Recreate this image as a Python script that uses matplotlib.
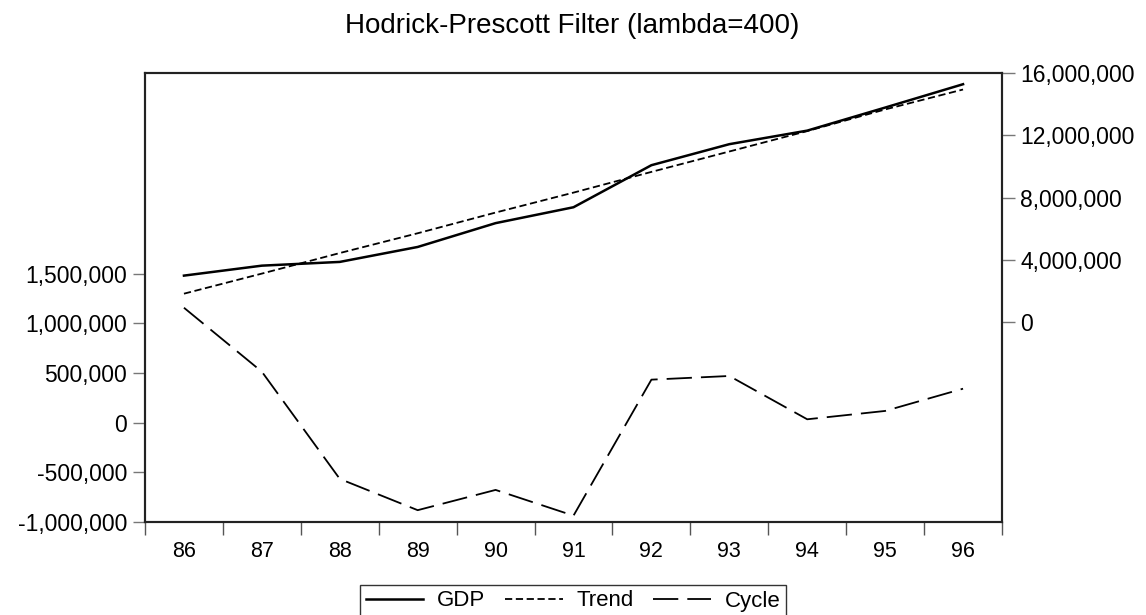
import numpy as np
import matplotlib
matplotlib.use('Agg')
import matplotlib.pyplot as plt
from matplotlib.ticker import FuncFormatter

plt.rcParams['font.family'] = ['Liberation Sans', 'DejaVu Sans']

anios = ['86', '87', '88', '89', '90', '91', '92', '93', '94', '95', '96']
gdp = [2.99e6, 3.63e6, 3.87e6, 4.83e6, 6.36e6, 7.38e6,
       10.08e6, 11.43e6, 12.30e6, 13.78e6, 15.28e6]
tendencia = [1.83e6, 3.12e6, 4.44e6, 5.71e6, 7.04e6, 8.32e6,
             9.65e6, 10.96e6, 12.27e6, 13.66e6, 14.94e6]
ciclo = [1157000, 513000, -566000, -881000, -677000, -936000,
         433000, 470000, 34000, 118000, 342000]

ticks_izq = [-1000000, -500000, 0, 500000, 1000000, 1500000]
ticks_der = [0, 4000000, 8000000, 12000000, 16000000]

def con_comas(v, pos=None):
    return f'{int(round(v)):,}'

fig = plt.figure(figsize=(11.46, 6.15), dpi=100)
ax = fig.add_axes([145/1146, 1-522/615, 857/1146, 449/615])
ax2 = ax.twinx()

x = np.arange(len(anios))
l3, = ax.plot(x, ciclo, color='black', linewidth=1.3, dashes=(14, 5), label='Cycle')
l1, = ax2.plot(x, gdp, color='black', linewidth=1.8, label='GDP')
l2, = ax2.plot(x, tendencia, color='black', linewidth=1.3, dashes=(4, 2), label='Trend')

ax.set_xlim(-0.5, len(anios) - 0.5)
ax.set_ylim(-1000000, 3520000)
ax2.set_ylim(-12830000, 16000000)

ax.set_yticks(ticks_izq)
ax.yaxis.set_major_formatter(FuncFormatter(con_comas))
ax2.set_yticks(ticks_der)
ax2.yaxis.set_major_formatter(FuncFormatter(con_comas))

ax.set_xticks(np.arange(-0.5, len(anios)), labels=[''] * (len(anios) + 1))
ax.set_xticks(x, minor=True)
ax.set_xticklabels(anios, minor=True)
ax.tick_params(axis='x', which='minor', length=0, pad=14, labelsize=15.5)
ax.tick_params(axis='x', which='major', length=9, width=1, color='#555555', direction='out')
ax.tick_params(axis='y', length=9, width=1, color='#777777', labelsize=16.5, pad=4)
ax2.tick_params(axis='y', length=9, width=1, color='#777777', labelsize=16.5, pad=4)

for a in (ax, ax2):
    for s in a.spines.values():
        s.set_linewidth(1.5)
        s.set_color('#222222')

fig.suptitle('Hodrick-Prescott Filter (lambda=400)', x=572/1146, y=1-26/615,
             va='center', fontsize=20)

leg = fig.legend(handles=[l1, l2, l3], loc='center', bbox_to_anchor=(573/1146, 1-601/615),
                 ncol=3, frameon=True, fancybox=False, edgecolor='black', fontsize=16,
                 handlelength=2.6, columnspacing=0.9, handletextpad=0.6,
                 borderpad=0.25, borderaxespad=0)
leg.get_frame().set_linewidth(1.0)

plt.savefig('out.png', dpi=100)
